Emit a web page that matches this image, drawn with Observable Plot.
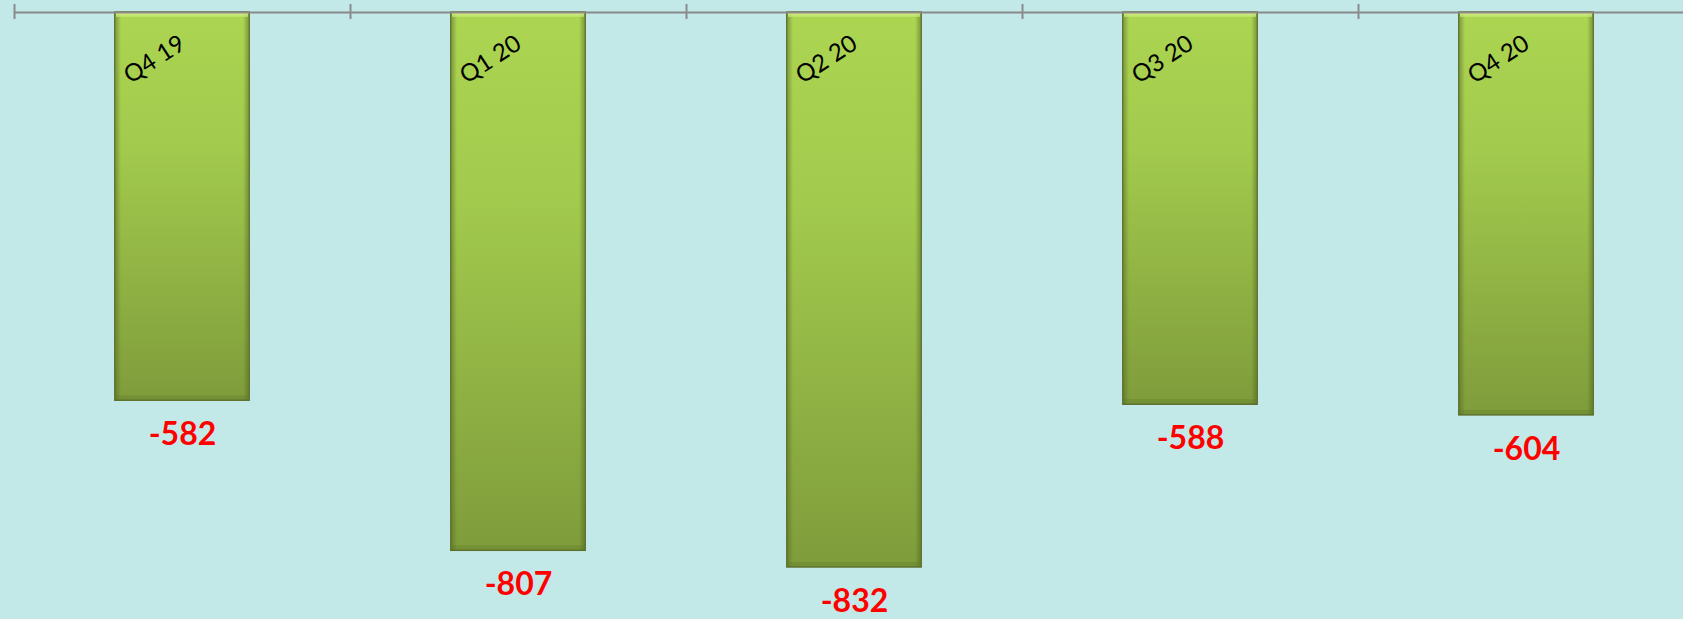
<!DOCTYPE html>
<html>
<head>
<meta charset="utf-8">
<script src="https://cdn.jsdelivr.net/npm/d3@7"></script>
<script src="https://cdn.jsdelivr.net/npm/@observablehq/plot@0.6"></script>
<style>
  html, body { margin: 0; padding: 0; background: #c2e9e8; overflow: hidden; }
  #chart svg { display: block; overflow: hidden; }
</style>
</head>
<body>
<div id="chart"></div>
<script>
const categories = ["Q4 19", "Q1 20", "Q2 20", "Q3 20", "Q4 20"];
const values = [-582, -807, -832, -588, -604];

const data = categories.map((c, i) => ({cat: c, i, v: values[i]}));
const boundaries = d3.range(categories.length + 1);

const axisColor = "#8a8a8a";

const plot = Plot.plot({
  width: 1683,
  height: 619,
  marginTop: 4,
  marginLeft: 14,
  marginRight: 0,
  marginBottom: 0,
  style: {background: "#c2e9e8", fontFamily: "Lato, sans-serif"},
  x: {type: "linear", domain: [0, categories.length], range: [14, 1694], axis: null},
  y: {domain: [-910, 0], range: [619, 12], axis: null},
  marks: [
    Plot.rect(data, {
      x1: d => d.i, x2: d => d.i + 1, y1: 0, y2: "v",
      insetLeft: 100.8, insetRight: 100.8,
      fill: "url(#barGrad)", stroke: "#5e702d", strokeWidth: 1.5,
      ariaLabel: "bars"
    }),
    Plot.rect(data, {
      x1: d => d.i, x2: d => d.i + 1, y1: 0, y2: "v",
      insetLeft: 101.6, insetRight: 101.6,
      fill: "url(#edgeGrad)"
    }),
    Plot.rect(data, {
      x1: d => d.i, x2: d => d.i + 1, y1: 0, y2: 0,
      insetLeft: 102, insetRight: 102, insetBottom: -5,
      fill: "url(#topGrad)"
    }),
    Plot.rect(data, {
      x1: d => d.i, x2: d => d.i + 1, y1: "v", y2: "v",
      insetLeft: 101.6, insetRight: 101.6, insetTop: -5,
      fill: "#5f7a2a", fillOpacity: 0.35
    }),
    Plot.ruleY([0], {stroke: axisColor, strokeWidth: 2}),
    Plot.ruleX(boundaries, {x: d => d, stroke: axisColor, strokeWidth: 2, insetBottom: 600}),
    Plot.text(data, {
      x: d => d.i + 0.5, y: 0, text: "cat",
      rotate: -33, dx: -28, dy: 47,
      fontSize: 24, fill: "#000000"
    }),
    Plot.text(data, {
      x: d => d.i + 0.5, y: "v", text: d => String(d.v),
      dy: 34, fontSize: 32, fontWeight: "bold", fill: "#ff0000"
    })
  ]
});

const svg = d3.select(plot);
const defs = svg.insert("defs", ":first-child");
const g1 = defs.append("linearGradient").attr("id", "barGrad")
  .attr("x1", 0).attr("y1", 0).attr("x2", 0).attr("y2", 1);
[["0%", "#acd552"], ["35%", "#a2ca4d"], ["100%", "#7f9c3b"]].forEach(([o, c]) =>
  g1.append("stop").attr("offset", o).attr("stop-color", c));
const g2 = defs.append("linearGradient").attr("id", "edgeGrad")
  .attr("x1", 0).attr("y1", 0).attr("x2", 1).attr("y2", 0);
[["0%", "#4a5e1c", 0.45], ["4%", "#4a5e1c", 0], ["96%", "#4a5e1c", 0], ["100%", "#4a5e1c", 0.45]].forEach(([o, c, a]) =>
  g2.append("stop").attr("offset", o).attr("stop-color", c).attr("stop-opacity", a));
const g3 = defs.append("linearGradient").attr("id", "topGrad")
  .attr("x1", 0).attr("y1", 0).attr("x2", 0).attr("y2", 1);
[["0%", "#e2f79a", 1], ["100%", "#c4e76e", 0.6]].forEach(([o, c, a]) =>
  g3.append("stop").attr("offset", o).attr("stop-color", c).attr("stop-opacity", a));

svg.selectAll('g[aria-label="bars"]').style("filter", "drop-shadow(0px 3px 3px rgba(0,0,0,0.3))");

document.getElementById("chart").appendChild(plot);
</script>
</body>
</html>
